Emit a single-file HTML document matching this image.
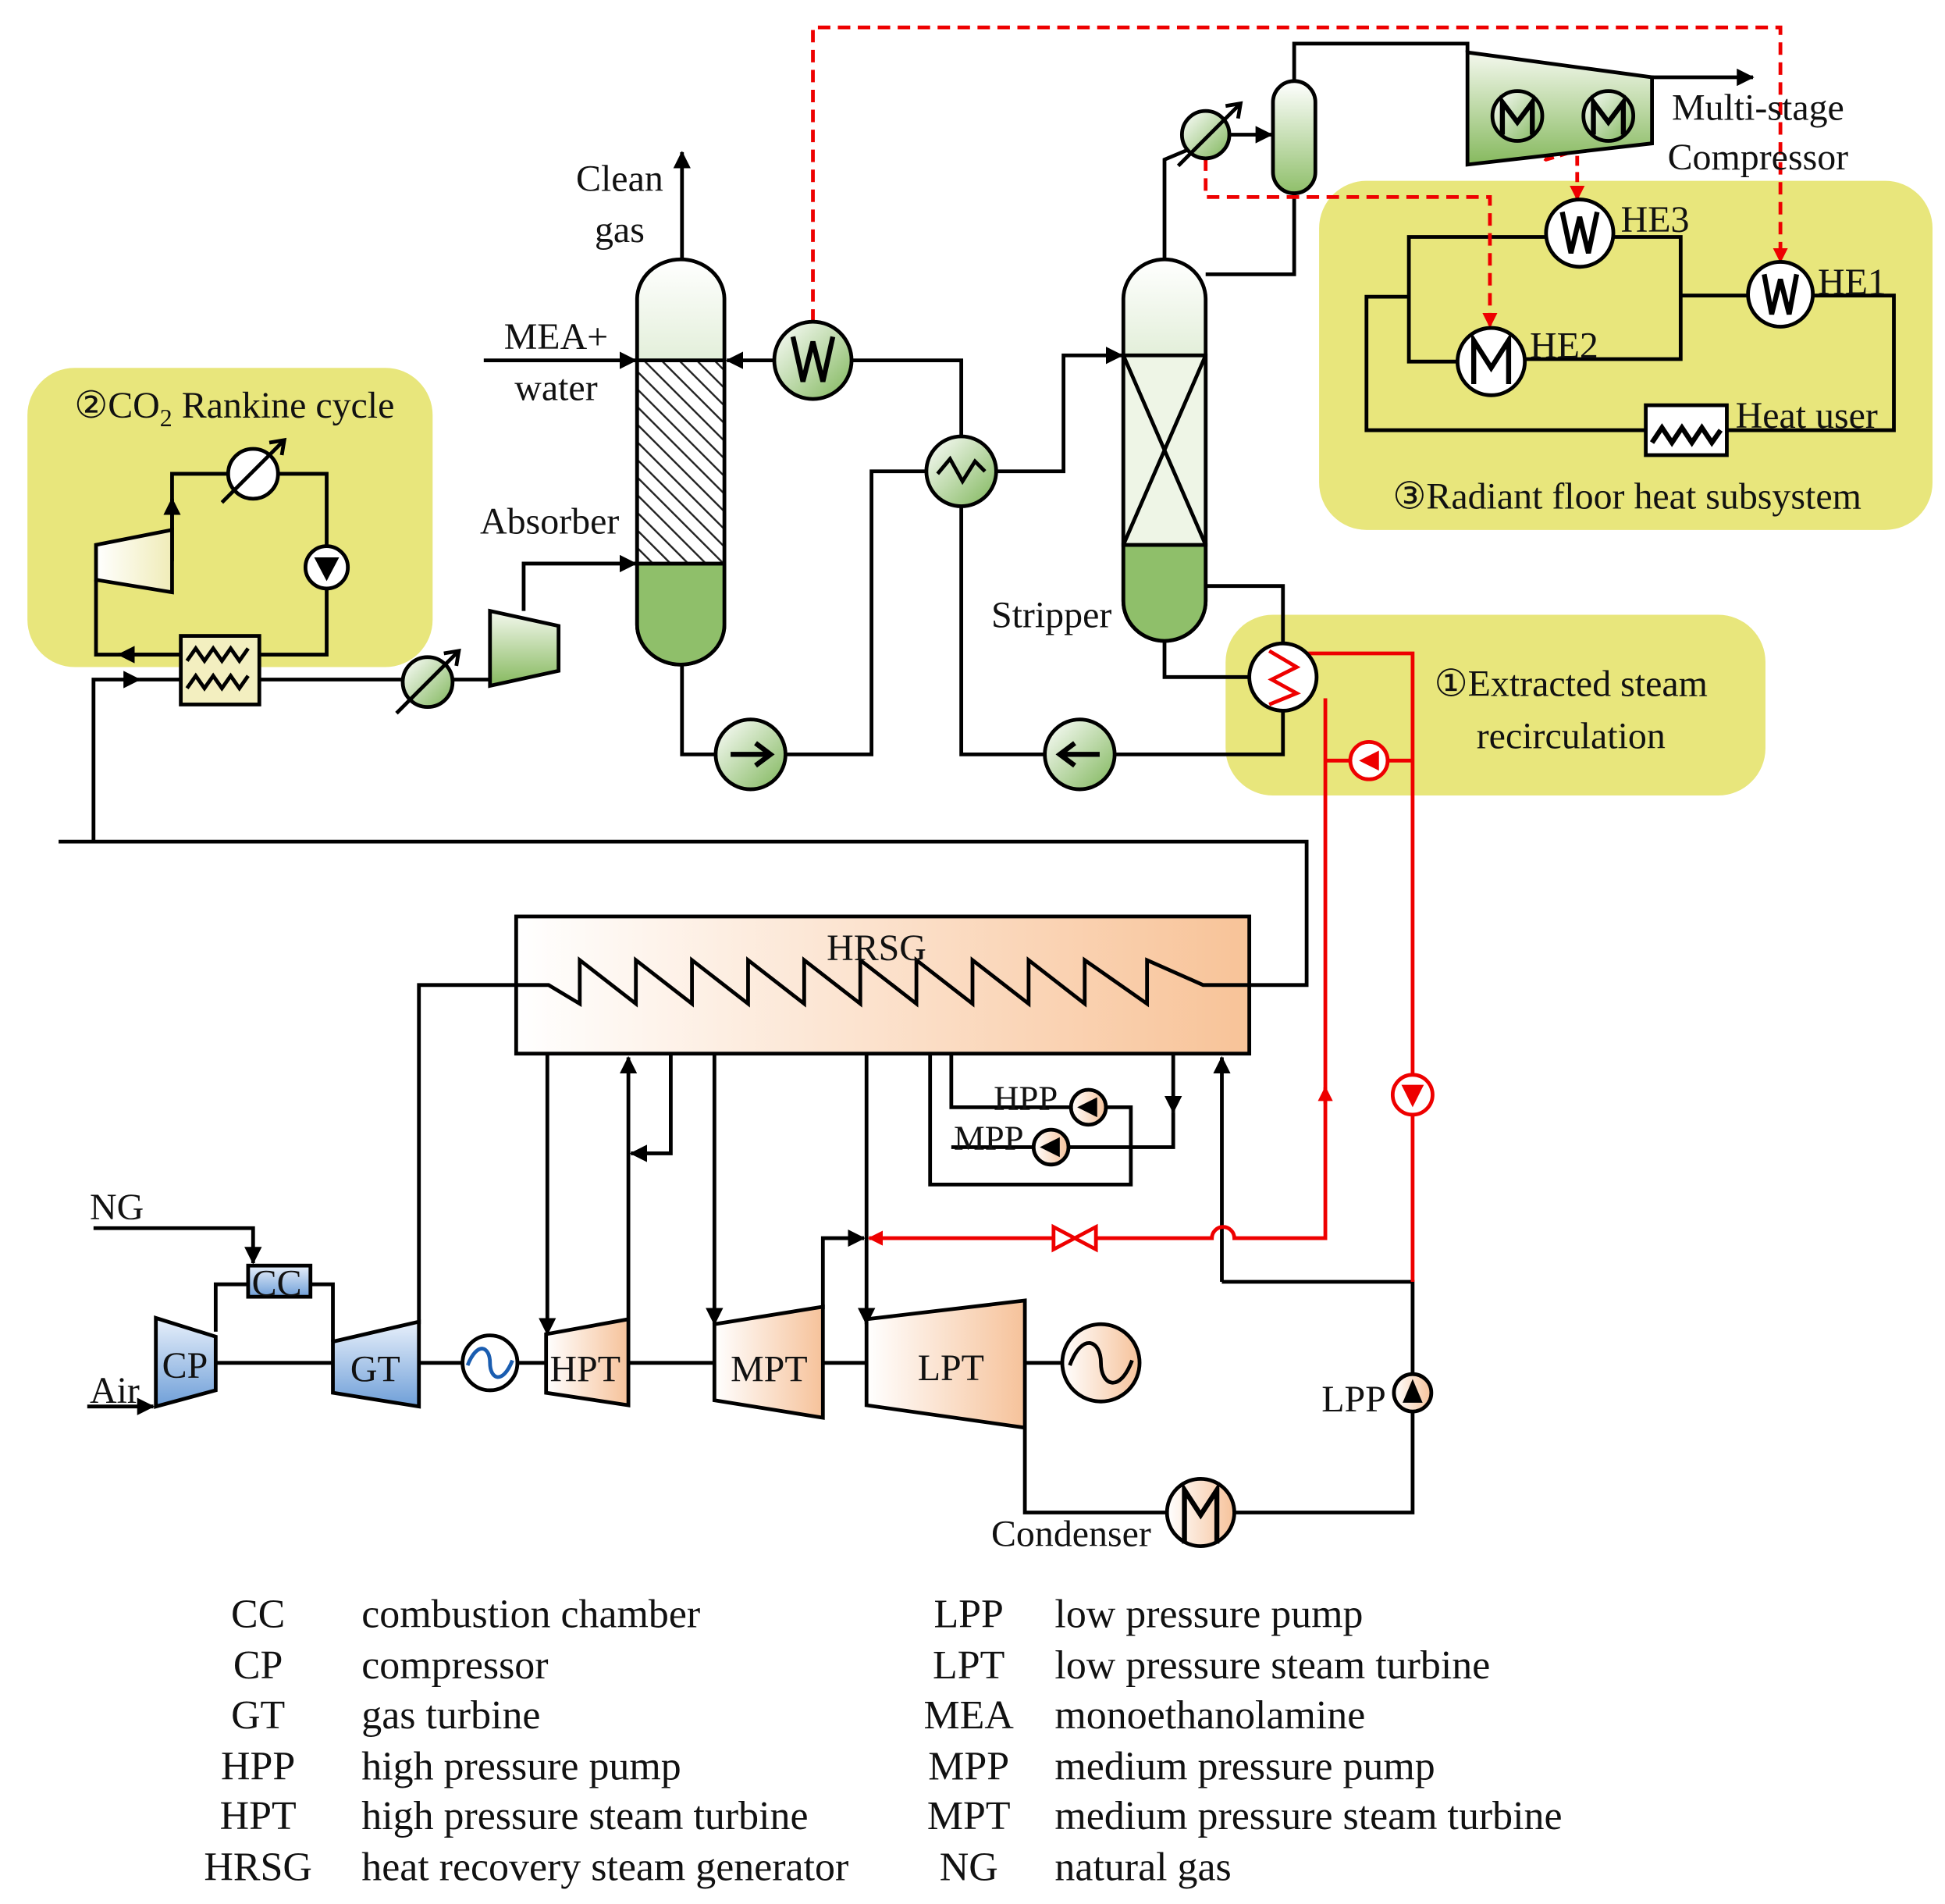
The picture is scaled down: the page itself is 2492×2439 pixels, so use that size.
<!DOCTYPE html>
<html><head><meta charset="utf-8"><style>
html,body{margin:0;padding:0;background:#fff}
svg{display:block}
text{font-family:"Liberation Serif",serif;fill:#111}
</style></head><body>
<svg width="2492" height="2439" viewBox="0 0 1560 1527" preserveAspectRatio="none" font-size="30" xmlns="http://www.w3.org/2000/svg">
<defs>
<linearGradient id="gcol" x1="0" y1="0" x2="0" y2="1"><stop offset="0" stop-color="#fff"/><stop offset="1" stop-color="#8fbf6a"/></linearGradient>
<linearGradient id="gball" x1="0" y1="0" x2="1" y2="1"><stop offset="0" stop-color="#fff"/><stop offset="1" stop-color="#7fb65a"/></linearGradient>
<linearGradient id="gcomp" x1="0" y1="0" x2="0" y2="1"><stop offset="0" stop-color="#f4f8ee"/><stop offset="1" stop-color="#86b95e"/></linearGradient>
<linearGradient id="ghrsg" x1="0" y1="0" x2="1" y2="0"><stop offset="0" stop-color="#fff"/><stop offset="1" stop-color="#f8c398"/></linearGradient>
<linearGradient id="gor" x1="0" y1="0" x2="1" y2="0"><stop offset="0" stop-color="#fff"/><stop offset="1" stop-color="#f6c29a"/></linearGradient>
<linearGradient id="gblue" x1="0" y1="0" x2="0" y2="1"><stop offset="0" stop-color="#e8f0fb"/><stop offset="1" stop-color="#6f9fd8"/></linearGradient>
<linearGradient id="gcream" x1="0" y1="0" x2="1" y2="0"><stop offset="0" stop-color="#fff"/><stop offset="1" stop-color="#f0ecb8"/></linearGradient>
<pattern id="hatch" width="10" height="10" patternUnits="userSpaceOnUse" patternTransform="rotate(-45)"><rect width="10" height="10" fill="#fff"/><line x1="0" y1="0" x2="0" y2="10" stroke="#222" stroke-width="3"/></pattern>
<marker id="ar" markerWidth="12" markerHeight="12" refX="11" refY="6" orient="auto" markerUnits="userSpaceOnUse" viewBox="0 0 12 12"><path d="M0,0 L12,6 L0,12z" fill="#e00"/></marker>
<marker id="abk" markerWidth="14" markerHeight="14" refX="13" refY="7" orient="auto" markerUnits="userSpaceOnUse" viewBox="0 0 14 14"><path d="M0,0 L14,7 L0,14z" fill="#000"/></marker>
</defs>

<rect x="22" y="295" width="325" height="240" rx="38" fill="#e8e67c"/>
<rect x="1058" y="145" width="492" height="280" rx="38" fill="#e8e67c"/>
<rect x="983" y="493" width="433" height="145" rx="38" fill="#e8e67c"/>

<g fill="none" stroke="#000" stroke-width="3">
<polyline points="547,208 547,122" marker-end="url(#abk)"/>
<polyline points="388,289 510,289" marker-end="url(#abk)"/>
<polyline points="621,289 583,289" marker-end="url(#abk)"/>
<polyline points="683,289 771,289 771,350"/>
<polyline points="799,378 853,378 853,285 900,285" marker-end="url(#abk)"/>
<polyline points="771,406 771,605 838,605"/>
<polyline points="894,605 1029,605 1029,571"/>
<polyline points="547,533 547,605 574,605"/>
<polyline points="630,605 699,605 699,378 743,378"/>
<polyline points="934,514 934,543 1002,543"/>
<polyline points="967,470 1029,470 1029,516"/>
<polyline points="934,208 934,180 934,128 953,120"/>
<polyline points="986,108 1020,108" marker-end="url(#abk)"/>
<polyline points="1038,65 1038,35 1177,35 1177,42"/>
<polyline points="1038,155 1038,220 967,220"/>
<polyline points="1325,62 1406,62" marker-end="url(#abk)"/>
<polyline points="1169,290 1130,290 1130,190 1240,190"/>
<polyline points="1294,190 1348,190 1348,288 1223,288"/>
<polyline points="1348,237 1402,237"/>
<polyline points="1454,237 1519,237 1519,345 1385,345"/>
<polyline points="1320,345 1096,345 1096,238 1130,238"/>
<polyline points="138,450 138,380 183,380"/>
<polyline points="223,380 262,380 262,438"/>
<polyline points="262,472 262,525 208,525"/>
<polyline points="145,525 77,525 77,465"/>
<polyline points="138,425 138,400" marker-end="url(#abk)"/>
<polyline points="145,525 95,525" marker-end="url(#abk)"/>
<polyline points="75,675 75,545 112,545" marker-end="url(#abk)"/>
<polyline points="112,545 145,545"/>
<polyline points="208,545 323,545"/>
<polyline points="363,545 393,545"/>
<polyline points="420,490 420,452 510,452" marker-end="url(#abk)"/>
<polyline points="47,675 1048,675 1048,790 1002,790"/>
<polyline points="414,790 336,790 336,1062"/>
<polyline points="439,845 439,1070" marker-end="url(#abk)"/>
<polyline points="504,1090 504,848" marker-end="url(#abk)"/>
<polyline points="538,845 538,925 506,925" marker-end="url(#abk)"/>
<polyline points="573,845 573,1062" marker-end="url(#abk)"/>
<polyline points="660,1050 660,993 693,993" marker-end="url(#abk)"/>
<polyline points="695,845 695,1062" marker-end="url(#abk)"/>
<polyline points="763,845 763,888 859,888"/>
<polyline points="887,888 907,888 907,950 746,950 746,845"/>
<polyline points="941,845 941,892" marker-end="url(#abk)"/>
<polyline points="941,892 941,920 857,920"/>
<polyline points="829,920 763,920"/>
<polyline points="980,1028 980,848" marker-end="url(#abk)"/>
<polyline points="980,1028 1133,1028 1133,1102"/>
<polyline points="1133,1132 1133,1213 990,1213"/>
<polyline points="936,1213 822,1213 822,1143"/>
<polyline points="75,985 203,985 203,1013" marker-end="url(#abk)"/>
<polyline points="70,1128 123,1128" marker-end="url(#abk)"/>
<polyline points="173,1068 173,1030 199,1030"/>
<polyline points="249,1030 267,1030 267,1076"/>
<polyline points="173,1093 267,1093"/>
<polyline points="336,1093 371,1093"/>
<polyline points="415,1093 438,1093"/>
<polyline points="504,1093 573,1093"/>
<polyline points="660,1093 695,1093"/>
<polyline points="822,1093 852,1093"/>
</g>

<g fill="none" stroke="#e00" stroke-width="3">
<polyline points="652,258 652,22 1428,22 1428,210" stroke-dasharray="10,6" marker-end="url(#ar)"/>
<polyline points="967,127 967,158 1195,158 1195,262" stroke-dasharray="10,6" marker-end="url(#ar)"/>
<polyline points="1217,113 1240,128 1290,113" stroke-dasharray="8,5"/>
<polyline points="1265,125 1265,160" stroke-dasharray="8,5" marker-end="url(#ar)"/>
<polyline points="1041,524 1133,524 1133,862"/>
<polyline points="1133,894 1133,1028"/>
<path d="M1063,560 V993 H990 A9,9 0 0 0 972,993 H697" marker-end="url(#ar)"/>
<polyline points="1063,610 1133,610"/>
<polyline points="1063,885 1063,872" marker-end="url(#ar)"/>
</g>

<path d="M511,240 a35,32 0 0 1 70,0 V501 a35,32 0 0 1 -70,0z" fill="url(#gcol)" stroke="#000" stroke-width="3"/>
<path d="M511,452 H581 V501 a35,32 0 0 1 -70,0z" fill="#8fbf6a" stroke="#000" stroke-width="3"/>
<rect x="511" y="289" width="70" height="163" fill="url(#hatch)" stroke="#000" stroke-width="3"/>
<path d="M901,240 a33,32 0 0 1 66,0 V482 a33,32 0 0 1 -66,0z" fill="url(#gcol)" stroke="#000" stroke-width="3"/>
<path d="M901,437 H967 V482 a33,32 0 0 1 -66,0z" fill="#8fbf6a" stroke="#000" stroke-width="3"/>
<rect x="901" y="285" width="66" height="152" fill="#eef5e6" stroke="#000" stroke-width="3"/>
<path d="M901,285 L967,437 M967,285 L901,437" stroke="#000" stroke-width="3"/>
<rect x="1021" y="65" width="34" height="90" rx="17" fill="url(#gcol)" stroke="#000" stroke-width="3"/>
<polygon points="1177,42 1325,62 1325,115 1177,132" fill="url(#gcomp)" stroke="#000" stroke-width="3"/>
<g stroke="#000" stroke-width="3">
<circle cx="1217" cy="93" r="20" fill="url(#gball)"/><circle cx="1290" cy="93" r="20" fill="url(#gball)"/>
</g>
<g fill="none" stroke="#000" stroke-width="4">
<path d="M1205,108 V82 L1217,98 L1229,82 V108"/><path d="M1278,108 V82 L1290,98 L1302,82 V108"/>
</g>

<g stroke="#000" stroke-width="3" fill="url(#gball)">
<circle cx="652" cy="289" r="31"/>
<circle cx="771" cy="378" r="28"/>
<circle cx="602" cy="605" r="28"/>
<circle cx="866" cy="605" r="28"/>
<circle cx="967" cy="108" r="19"/>
<circle cx="343" cy="547" r="20"/>
</g>
<path d="M636,270 L644,306 L652,274 L660,306 L668,270" fill="none" stroke="#000" stroke-width="4"/>
<path d="M752,380 L762,368 L772,386 L782,370 L790,378" fill="none" stroke="#000" stroke-width="3"/>
<path d="M586,605 H618 M606,596 L618,605 L606,614" fill="none" stroke="#000" stroke-width="4"/>
<path d="M882,605 H850 M862,596 L850,605 L862,614" fill="none" stroke="#000" stroke-width="4"/>
<path d="M945,133 L995,83 M983,85 L995,83 L993,95" fill="none" stroke="#000" stroke-width="3"/>
<path d="M318,572 L368,522 M356,524 L368,522 L366,534" fill="none" stroke="#000" stroke-width="3"/>
<polygon points="393,490 448,502 448,538 393,550" fill="url(#gcomp)" stroke="#000" stroke-width="3"/>

<g stroke="#000" stroke-width="3" fill="#fff">
<circle cx="1267" cy="187" r="27"/><circle cx="1196" cy="290" r="27"/><circle cx="1428" cy="236" r="26"/>
<rect x="1320" y="325" width="65" height="40"/>
</g>
<g fill="none" stroke="#000" stroke-width="4">
<path d="M1253,170 L1260,203 L1267,174 L1274,203 L1281,170"/>
<path d="M1182,308 V273 L1196,295 L1210,273 V308"/>
<path d="M1415,220 L1421,252 L1428,224 L1435,252 L1441,220"/>
<path d="M1325,355 L1333,343 L1341,355 L1349,343 L1357,355 L1365,343 L1373,355 L1380,345"/>
</g>

<polygon points="77,437 138,425 138,475 77,465" fill="url(#gcream)" stroke="#000" stroke-width="3"/>
<circle cx="203" cy="380" r="20" fill="#fff" stroke="#000" stroke-width="3"/>
<path d="M178,403 L228,353 M216,355 L228,353 L226,365" fill="none" stroke="#000" stroke-width="3"/>
<circle cx="262" cy="455" r="17" fill="#fff" stroke="#000" stroke-width="3"/>
<path d="M252,447 H272 L262,466z" fill="#000"/>
<rect x="145" y="510" width="63" height="55" fill="#f3efc0" stroke="#000" stroke-width="3"/>
<path d="M150,530 l7,-10 l7,10 l7,-10 l7,10 l7,-10 l7,10 l7,-10 M150,552 l7,-10 l7,10 l7,-10 l7,10 l7,-10 l7,10 l7,-10" fill="none" stroke="#000" stroke-width="3"/>

<circle cx="1029" cy="543" r="27" fill="#fff" stroke="#000" stroke-width="3"/>
<path d="M1018,522 L1040,535 L1020,545 L1040,556 L1018,565" fill="none" stroke="#e00" stroke-width="3"/>
<circle cx="1098" cy="610" r="15" fill="#fff" stroke="#e00" stroke-width="3"/>
<path d="M1106,602 V618 L1090,610z" fill="#e00"/>
<circle cx="1133" cy="878" r="16" fill="#fff" stroke="#e00" stroke-width="3"/>
<path d="M1124,870 H1142 L1133,888z" fill="#e00"/>
<path d="M845,984 L879,1002 L879,984 L845,1002z" fill="#fff" stroke="#e00" stroke-width="3"/>

<rect x="414" y="735" width="588" height="110" fill="url(#ghrsg)" stroke="#000" stroke-width="3"/>
<polyline points="414,790 440,790 465,805 465,770 510,805 510,770 555,805 555,770 600,805 600,770 645,805 645,770 690,805 690,770 735,805 735,770 780,805 780,770 825,805 825,770 870,805 870,770 920,805 920,770 965,790 1002,790" fill="none" stroke="#000" stroke-width="3"/>

<circle cx="873" cy="888" r="14" fill="url(#gor)" stroke="#000" stroke-width="3"/>
<circle cx="843" cy="920" r="14" fill="url(#gor)" stroke="#000" stroke-width="3"/>
<path d="M864,888 L880,880 V896z M834,920 L850,912 V928z" fill="#000"/>

<rect x="199" y="1015" width="50" height="25" fill="url(#gblue)" stroke="#000" stroke-width="3"/>
<polygon points="125,1057 173,1072 173,1115 125,1128" fill="url(#gblue)" stroke="#000" stroke-width="3"/>
<polygon points="267,1076 336,1060 336,1128 267,1117" fill="url(#gblue)" stroke="#000" stroke-width="3"/>
<circle cx="393" cy="1093" r="22" fill="#fff" stroke="#000" stroke-width="3"/>
<path d="M375,1095 C383,1075 393,1080 393,1093 C393,1106 403,1111 411,1091" fill="none" stroke="#1a5db0" stroke-width="3"/>
<polygon points="438,1070 504,1058 504,1127 438,1117" fill="url(#gor)" stroke="#000" stroke-width="3"/>
<polygon points="573,1062 660,1048 660,1137 573,1123" fill="url(#gor)" stroke="#000" stroke-width="3"/>
<polygon points="695,1058 822,1043 822,1145 695,1127" fill="url(#gor)" stroke="#000" stroke-width="3"/>
<circle cx="883" cy="1093" r="31" fill="url(#gor)" stroke="#000" stroke-width="3"/>
<path d="M858,1095 C868,1068 883,1075 883,1093 C883,1111 898,1118 908,1091" fill="none" stroke="#000" stroke-width="3"/>
<circle cx="1133" cy="1117" r="15" fill="url(#gor)" stroke="#000" stroke-width="3"/>
<path d="M1125,1125 H1141 L1133,1106z" fill="#000"/>
<circle cx="963" cy="1213" r="27" fill="url(#gor)" stroke="#000" stroke-width="3"/>
<path d="M950,1238 V1195 L963,1215 L976,1195 V1238" fill="none" stroke="#000" stroke-width="4"/>

<g text-anchor="middle">
<text x="497" y="153">Clean</text><text x="497" y="194">gas</text>
<text x="446" y="280">MEA+</text><text x="446" y="321">water</text>
<text x="1410" y="96">Multi-stage</text><text x="1410" y="136">Compressor</text>
<text x="1305" y="408">③Radiant floor heat subsystem</text>
<text x="188" y="335">②CO<tspan font-size="20" dy="7">2</tspan><tspan dy="-7"> Rankine cycle</tspan></text>
<text x="1260" y="558">①Extracted steam</text><text x="1260" y="600">recirculation</text>
<text x="703" y="770">HRSG</text>
</g>
<text x="385" y="428">Absorber</text>
<text x="795" y="503">Stripper</text>
<text x="1300" y="186">HE3</text><text x="1227" y="287">HE2</text><text x="1458" y="236">HE1</text>
<text x="1392" y="343">Heat user</text>
<text x="797" y="890" font-size="28">HPP</text><text x="765" y="922" font-size="28">MPP</text>
<text x="72" y="978">NG</text><text x="72" y="1125">Air</text>
<text x="130" y="1105">CP</text><text x="202" y="1039">CC</text><text x="281" y="1108">GT</text>
<text x="441" y="1108">HPT</text><text x="586" y="1108">MPT</text><text x="736" y="1107">LPT</text>
<text x="1060" y="1132">LPP</text><text x="795" y="1240">Condenser</text>

<g font-size="32.5">
<g text-anchor="middle">
<text x="207" y="1305">CC</text><text x="207" y="1346">CP</text><text x="207" y="1386">GT</text><text x="207" y="1427">HPP</text><text x="207" y="1467">HPT</text><text x="207" y="1508">HRSG</text>
<text x="777" y="1305">LPP</text><text x="777" y="1346">LPT</text><text x="777" y="1386">MEA</text><text x="777" y="1427">MPP</text><text x="777" y="1467">MPT</text><text x="777" y="1508">NG</text>
</g>
<text x="290" y="1305">combustion chamber</text><text x="290" y="1346">compressor</text><text x="290" y="1386">gas turbine</text><text x="290" y="1427">high pressure pump</text><text x="290" y="1467">high pressure steam turbine</text><text x="290" y="1508">heat recovery steam generator</text>
<text x="846" y="1305">low pressure pump</text><text x="846" y="1346">low pressure steam turbine</text><text x="846" y="1386">monoethanolamine</text><text x="846" y="1427">medium pressure pump</text><text x="846" y="1467">medium pressure steam turbine</text><text x="846" y="1508">natural gas</text>
</g>
</svg>
</body></html>
